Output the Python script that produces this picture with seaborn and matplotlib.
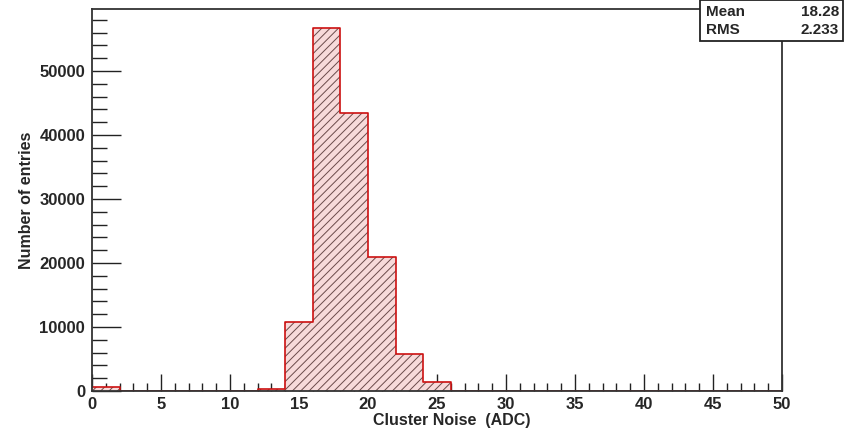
import numpy as np
import pandas as pd
import matplotlib
matplotlib.use("Agg")
import matplotlib.pyplot as plt
import seaborn as sns
from matplotlib.patches import Rectangle

# data
bin_edges = list(range(0, 52, 2))
bin_centers = [1, 3, 5, 7, 9, 11, 13, 15, 17, 19, 21, 23, 25, 27, 29, 31, 33, 35, 37, 39, 41, 43, 45, 47, 49]
counts = [550, 0, 0, 0, 0, 0, 250, 10800, 56800, 43400, 20950, 5800, 1450, 0, 0, 0, 0, 0, 0, 0, 0, 0, 0, 0, 0]
x_ticks = [0, 5, 10, 15, 20, 25, 30, 35, 40, 45, 50]
y_ticks = [0, 10000, 20000, 30000, 40000, 50000]
stats_labels = ["Mean", "RMS"]
stats_values = ["18.28", "2.233"]
x_label = "Cluster Noise  (ADC)"
y_label = "Number of entries"

sns.set_style("white")
plt.rcParams['font.family'] = ['Liberation Sans', 'DejaVu Sans']
plt.rcParams['hatch.linewidth'] = 0.7

df = pd.DataFrame({"x": bin_centers, "w": counts})

W, H = 844, 433
fig = plt.figure(figsize=(W / 100, H / 100), dpi=100)
fig.patch.set_facecolor("white")
x0, x1, ytop, ybot = 92, 782, 9, 391
ax = fig.add_axes([x0 / W, 1 - ybot / H, (x1 - x0) / W, (ybot - ytop) / H])

# hatched fill layer
plt.rcParams['hatch.color'] = '#6a5a5a'
sns.histplot(data=df, x="x", weights="w", bins=bin_edges, ax=ax,
             element="bars", fill=True, color="#f7dada", alpha=1.0,
             edgecolor="#6a4a4a", linewidth=0, hatch="////")
# red outline layer
sns.histplot(data=df, x="x", weights="w", bins=bin_edges, ax=ax,
             element="step", fill=False, color="#cc1111", linewidth=1.2)

ax.set_xlim(0, 50)
ax.set_ylim(0, 59700)
ax.set_xticks(x_ticks)
ax.set_xticks(np.arange(0, 51, 1), minor=True)
ax.set_yticks(y_ticks)
ax.set_yticks(np.arange(0, 59000, 2000), minor=True)
ax.set_xticklabels([str(v) for v in x_ticks], fontsize=12, fontweight="bold")
ax.set_yticklabels([str(v) for v in y_ticks], fontsize=12, fontweight="bold")
ax.tick_params(axis="both", which="both", bottom=True, left=True, top=False, right=False)
ax.tick_params(axis="x", which="major", direction="in", length=12, width=1, color="#222222", pad=4)
ax.tick_params(axis="x", which="minor", direction="in", length=6, width=1, color="#222222")
ax.tick_params(axis="y", which="major", direction="in", length=21, width=1, color="#222222", pad=5)
ax.tick_params(axis="y", which="minor", direction="in", length=11, width=1, color="#222222")

for s in ax.spines.values():
    s.set_visible(True)
    s.set_color("#333333")
    s.set_linewidth(1.3)

ax.set_xlabel(x_label, fontsize=11.5, fontweight="bold", labelpad=0)
ax.xaxis.set_label_coords(0.522, -0.057)
ax.set_ylabel(y_label, fontsize=11.5, fontweight="bold", labelpad=4)

# stats box
bx0, bx1, by0, by1 = 700, 843, 0, 41
fig.patches.append(Rectangle((bx0 / W, 1 - by1 / H), (bx1 - bx0) / W, (by1 - by0) / H,
                             transform=fig.transFigure, facecolor="white",
                             edgecolor="#222222", linewidth=1.3, zorder=5))
for i, (lab, val) in enumerate(zip(stats_labels, stats_values)):
    yy = 1 - (12 + 18 * i) / H
    fig.text(706 / W, yy, lab, fontsize=11, fontweight="bold", va="center", ha="left", zorder=6)
    fig.text(839 / W, yy, val, fontsize=11, fontweight="bold", va="center", ha="right", zorder=6)

fig.savefig("out.png", dpi=100)
